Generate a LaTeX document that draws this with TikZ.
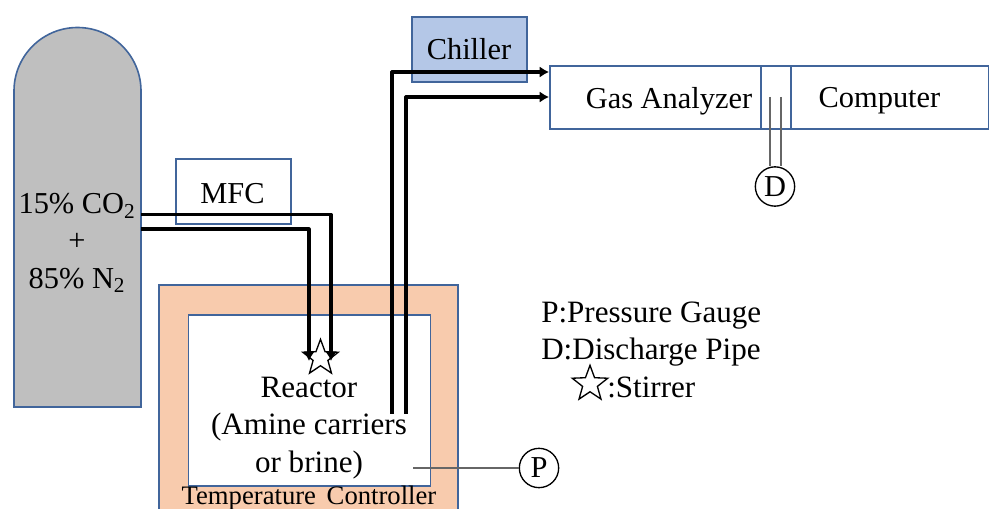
\documentclass[tikz,border=0pt]{standalone}
\usepackage{fontspec}
\setmainfont{Liberation Serif}
\usetikzlibrary{shapes.geometric,arrows.meta}
\definecolor{edgeblue}{HTML}{41659B}
\definecolor{tankgray}{HTML}{BFBFBF}
\definecolor{tempfill}{HTML}{F8CBAD}
\definecolor{chillfill}{HTML}{B4C7E7}
\tikzset{
  x=0.75pt,y=-0.75pt,
  box/.style={draw=edgeblue,line width=1.2pt,rectangle,inner sep=0pt,anchor=north west},
  label/.style={font=\fontsize{22.8pt}{28pt}\selectfont,inner sep=0pt,align=center},
  widelabel/.style={font=\fontsize{23.3pt}{28pt}\selectfont,inner sep=0pt,align=center},
  pipe/.style={draw=black,line width=2.4pt,line join=round},
  pipearrow/.style={pipe,-{Latex[length=7pt,width=8.5pt]}},
  gaugeline/.style={draw=black!60,line width=0.8pt},
  gauge/.style={draw=black,line width=1pt,circle,minimum size=29.5pt,inner sep=0pt,font=\fontsize{22.8pt}{28pt}\selectfont},
  stirrer/.style={draw=black,line width=1pt,star,star points=5,star point ratio=2.4,inner sep=0pt,fill=white}
}
\begin{document}
\begin{tikzpicture}
\useasboundingbox (0,0) rectangle (989,509);
% tank
\draw[draw=edgeblue,line width=1.2pt,fill=tankgray] (14,407) -- (14,91) arc[start angle=180,end angle=0,radius=63.5*0.75pt] -- (141,407) -- cycle;
\node[label] (tank) at (77,243) {15\% CO\textsubscript{2}\\+\\85\% N\textsubscript{2}};
% MFC
\node[box,minimum width=86.25pt,minimum height=48.75pt] (mfc) at (175,158.5) {};
\node[label] (mfctext) at (232.5,193.5) {MFC};
% temperature controller
\fill[tempfill] (159,285) rectangle (458,509);
\draw[draw=edgeblue,line width=1.2pt] (159,509) -- (159,285) -- (458,285) -- (458,509);
\node[box,fill=white,minimum width=181.5pt,minimum height=128.25pt] (reactor) at (187.5,314) {};
\node[widelabel] (reactortext) at (309,428) {Reactor\\(Amine carriers\\or brine)};
\node[font=\fontsize{20pt}{24pt}\selectfont,inner sep=0pt] (tc) at (309,498) {Temperature\hspace{3pt} Controller};
% chiller
\node[box,fill=chillfill,minimum width=86.25pt,minimum height=48.75pt] (chiller) at (411,16) {};
\node[label] (chillertext) at (469,49) {Chiller};
% analyzer
\node[box,minimum width=329.5pt,minimum height=47.25pt] (analyzer) at (549,65) {};
\node[box,minimum width=22.5pt,minimum height=47.25pt] (discharge) at (760,65) {};
\node[label] (gastext) at (669,101) {Gas Analyzer};
\node[label] (comptext) at (879.5,101) {Computer};
% stirrer
\node[stirrer,minimum size=28pt] (star) at (320.5,358) {};
% pipe end points
\coordinate (inA) at (141,214.5);
\coordinate (inAc) at (331,214.5);
\coordinate (inAe) at (331,361);
\coordinate (inB) at (141,229);
\coordinate (inBc) at (309,229);
\coordinate (inBe) at (309,361);
\coordinate (outA) at (392,414);
\coordinate (outAc) at (392,72);
\coordinate (outAe) at (549,72);
\coordinate (outB) at (406,414);
\coordinate (outBc) at (406,97);
\coordinate (outBe) at (549,97);
\draw[pipearrow] (inA) -- (inAc) -- (inAe);
\draw[pipearrow] (inB) -- (inBc) -- (inBe);
\draw[pipearrow] (outA) -- (outAc) -- (outAe);
\draw[pipearrow] (outB) -- (outBc) -- (outBe);
% gauges
\node[gauge] (D) at (775,186.5) {D};
\node[gauge] (P) at (539,468) {P};
\coordinate (dA) at (770,97);
\coordinate (dB) at (781,97);
\coordinate (pS) at (413,468);
\draw[gaugeline] (dA) -- (dA |- D.north);
\draw[gaugeline] (dB) -- (dB |- D.north);
\draw[gaugeline] (pS) -- (P);
% legend
\node[widelabel,anchor=west] (lp) at (541,316) {P:Pressure Gauge};
\node[widelabel,anchor=west] (ld) at (541,352.5) {D:Discharge Pipe};
\node[stirrer,minimum size=28pt] (lstar) at (590,384) {};
\node[widelabel,anchor=west] (ls) at (607,387) {:Stirrer};
\end{tikzpicture}
\end{document}
